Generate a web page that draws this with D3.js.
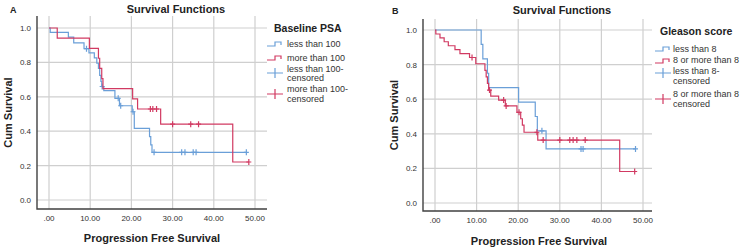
<!DOCTYPE html>
<html lang="en">
<head>
<meta charset="UTF-8">
<title>Survival Functions</title>
<script src="https://d3js.org/d3.v7.min.js"></script>
<style>
html, body { margin: 0; padding: 0; background: white; }
body { font-family: 'Liberation Sans', Arial, sans-serif; }
.grid line { stroke: #cfcfcf; stroke-width: 1.2px; }
.frame { stroke: #404040; stroke-width: 1.4px; fill: none; }
.tick-label { font-size: 8px; fill: #333; }
.title { font-size: 11px; font-weight: bold; fill: #222; }
.panel-letter { font-size: 9px; font-weight: bold; fill: #222; }
.axis-title { font-size: 11px; font-weight: bold; fill: #222; }
.legend-title { font-size: 10.5px; font-weight: bold; fill: #222; }
.legend-text { font-size: 9px; fill: #333; }
.km { fill: none; stroke-width: 1.2px; }
</style>
</head>
<body>
<div id="chart"></div>
<script>

// --------------------------------------
// Data
// --------------------------------------

var xTicks = [0, 10, 20, 30, 40, 50];
var xTickLabels = [".00", "10.00", "20.00", "30.00", "40.00", "50.00"];
var yTicks = [0, 0.2, 0.4, 0.6, 0.8, 1.0];
var yTickLabels = ["0.0", "0.2", "0.4", "0.6", "0.8", "1.0"];

// Panel A - Baseline PSA
var psaLowTimes = [0, 0.3, 4.7, 6.0, 8.5, 9.7, 11.0, 11.6, 12.0, 12.3, 12.6, 12.8, 13.3, 16.0, 17.1, 20.2, 20.7, 24.4, 24.7, 25.0];
var psaLowSurv  = [1, 0.975, 0.947, 0.914, 0.880, 0.855, 0.826, 0.795, 0.765, 0.725, 0.69, 0.66, 0.636, 0.591, 0.548, 0.513, 0.417, 0.368, 0.32, 0.277];
var psaLowCensored = [9.1, 12.9, 16.8, 17.4, 20.4, 25.5, 32.2, 33.0, 35.0, 35.7, 47.9];

var psaHighTimes = [0, 2.0, 9.8, 12.0, 12.3, 12.8, 13.1, 20.3, 21.5, 27.1, 44.6];
var psaHighSurv  = [1, 0.941, 0.882, 0.824, 0.765, 0.706, 0.647, 0.588, 0.529, 0.441, 0.221];
var psaHighCensored = [24.6, 25.2, 26.1, 30.0, 34.4, 36.3, 48.5];

var psaLabels = ["less than 100", "more than 100", "less than 100-|censored", "more than 100-|censored"];

// Panel B - Gleason score
var gleasonLowTimes = [0, 11.1, 11.5, 12.6, 12.9, 20.1, 24.1, 24.6, 26.7];
var gleasonLowSurv  = [1, 0.917, 0.833, 0.75, 0.667, 0.583, 0.5, 0.417, 0.3125];
var gleasonLowCensored = [25.7, 35.1, 35.6, 48.2];

var gleasonHighTimes = [0, 0.2, 1.2, 2.2, 3.2, 4.8, 6.0, 8.3, 9.8, 12.0, 12.3, 12.6, 12.9, 13.4, 15.3, 16.9, 19.7, 20.6, 21.0, 21.4, 24.7, 44.4];
var gleasonHighSurv  = [1, 0.977, 0.955, 0.932, 0.909, 0.886, 0.864, 0.841, 0.805, 0.767, 0.729, 0.691, 0.653, 0.618, 0.595, 0.561, 0.524, 0.487, 0.45, 0.409, 0.364, 0.182];
var gleasonHighCensored = [8.9, 13.1, 16.5, 17.1, 20.2, 24.5, 26.0, 30.0, 32.4, 33.2, 34.1, 36.1, 48.0];

var gleasonLabels = ["less than 8", "8 or more than 8", "less than 8-|censored", "8 or more than 8|censored"];

var blue = "#6a9fd8";
var red = "#d13a62";

// --------------------------------------
// SVG
// --------------------------------------

var svg = d3.select("#chart").append("svg")
  .attr("width", 750)
  .attr("height", 251);

svg.append("rect").attr("width", 750).attr("height", 251).attr("fill", "white");

// survival value at time t (step function)
function survAt(times, surv, t) {
  var i = d3.bisectRight(times, t) - 1;
  return surv[Math.max(0, i)];
}

function drawPanel(p) {
  var g = svg.append("g");

  var x = d3.scaleLinear().domain([0, 50]).range([p.x0, p.x50]);
  var y = d3.scaleLinear().domain([0, 1]).range([p.y0, p.y1]);

  // gridlines
  var grid = g.append("g").attr("class", "grid");
  grid.selectAll(".gx").data(xTicks).join("line")
    .attr("x1", d => x(d)).attr("x2", d => x(d))
    .attr("y1", p.top).attr("y2", p.bottom);
  grid.selectAll(".gy").data(yTicks).join("line")
    .attr("x1", p.left).attr("x2", p.right)
    .attr("y1", d => y(d)).attr("y2", d => y(d));

  // frame (left + bottom)
  g.append("path").attr("class", "frame")
    .attr("d", `M${p.left},${p.top}V${p.bottom}H${p.right}`);

  // tick labels
  g.selectAll(".xl").data(xTicks).join("text")
    .attr("class", "tick-label")
    .attr("x", d => x(d)).attr("y", p.xLabelY)
    .attr("text-anchor", "middle")
    .text((d, i) => xTickLabels[i]);
  g.selectAll(".yl").data(yTicks).join("text")
    .attr("class", "tick-label")
    .attr("x", p.left - 6).attr("y", d => y(d) + 3)
    .attr("text-anchor", "end")
    .text((d, i) => yTickLabels[i]);

  // titles
  g.append("text").attr("class", "title")
    .attr("x", p.titleX).attr("y", p.titleY)
    .attr("text-anchor", "middle").text("Survival Functions");
  g.append("text").attr("class", "panel-letter")
    .attr("x", p.letterX).attr("y", p.titleY).text(p.letter);
  g.append("text").attr("class", "axis-title")
    .attr("x", p.xTitleX).attr("y", p.xTitleY)
    .attr("text-anchor", "middle").text("Progression Free Survival");
  g.append("text").attr("class", "axis-title")
    .attr("transform", `translate(${p.yTitleX},${(p.top + p.bottom) / 2}) rotate(-90)`)
    .attr("text-anchor", "middle").text("Cum Survival");

  // KM curves
  var line = d3.line().curve(d3.curveStepAfter)
    .x(d => x(d[0])).y(d => y(d[1]));

  p.series.forEach(function(s) {
    var pts = s.times.map((t, i) => [t, s.surv[i]]);
    var end = d3.max(s.censored);
    pts.push([end, s.surv[s.surv.length - 1]]);
    g.append("path").attr("class", "km").attr("stroke", s.color).attr("d", line(pts));

    g.selectAll(null).data(s.censored).join("path")
      .attr("class", "km").attr("stroke", s.color)
      .attr("d", function(t) {
        var cx = x(t), cy = y(survAt(s.times, s.surv, t));
        return `M${cx},${cy - 3}V${cy + 3}M${cx - 2.5},${cy}H${cx + 2.5}`;
      });
  });

  // legend
  var L = p.legend;
  g.append("text").attr("class", "legend-title")
    .attr("x", L.titleX).attr("y", L.titleY).text(L.title);

  L.labels.forEach(function(lab, i) {
    var color = i % 2 === 0 ? blue : red;
    var sy = L.symY[i];
    if (i < 2) {
      g.append("path").attr("class", "km").attr("stroke", color)
        .attr("d", `M${L.symX},${sy + 2}H${L.symX + 8}V${sy - 2}H${L.symX + 14}V${sy + 1}`);
    } else {
      g.append("path").attr("class", "km").attr("stroke", color)
        .attr("d", `M${L.symX},${sy}H${L.symX + 16}M${L.symX + 8},${sy - 5}V${sy + 5}`);
    }
    var t = g.append("text").attr("class", "legend-text")
      .attr("x", L.textX).attr("y", L.textY[i]);
    lab.split("|").forEach(function(part, k) {
      t.append("tspan").attr("x", L.textX).attr("dy", k === 0 ? 0 : 9.5).text(part);
    });
  });
}

drawPanel({
  letter: "A", letterX: 10, titleX: 176, titleY: 13,
  x0: 49, x50: 255, y0: 200, y1: 28,
  left: 37, right: 267, top: 16, bottom: 209,
  xLabelY: 221, xTitleX: 152, xTitleY: 242, yTitleX: 12,
  series: [
    {times: psaLowTimes, surv: psaLowSurv, censored: psaLowCensored, color: blue},
    {times: psaHighTimes, surv: psaHighSurv, censored: psaHighCensored, color: red}
  ],
  legend: {
    title: "Baseline PSA", titleX: 274, titleY: 32,
    labels: psaLabels, symX: 267, textX: 287,
    symY: [44, 58, 73, 94], textY: [46.5, 60.5, 71.5, 92.3]
  }
});

drawPanel({
  letter: "B", letterX: 392, titleX: 562, titleY: 14,
  x0: 435, x50: 643, y0: 203, y1: 30,
  left: 423, right: 652, top: 19, bottom: 211,
  xLabelY: 223, xTitleX: 539, xTitleY: 245, yTitleX: 398,
  series: [
    {times: gleasonLowTimes, surv: gleasonLowSurv, censored: gleasonLowCensored, color: blue},
    {times: gleasonHighTimes, surv: gleasonHighSurv, censored: gleasonHighCensored, color: red}
  ],
  legend: {
    title: "Gleason score", titleX: 660, titleY: 35,
    labels: gleasonLabels, symX: 655, textX: 673,
    symY: [49, 61, 73, 99], textY: [51.7, 63.3, 74, 97.3]
  }
});

</script>
</body>
</html>
